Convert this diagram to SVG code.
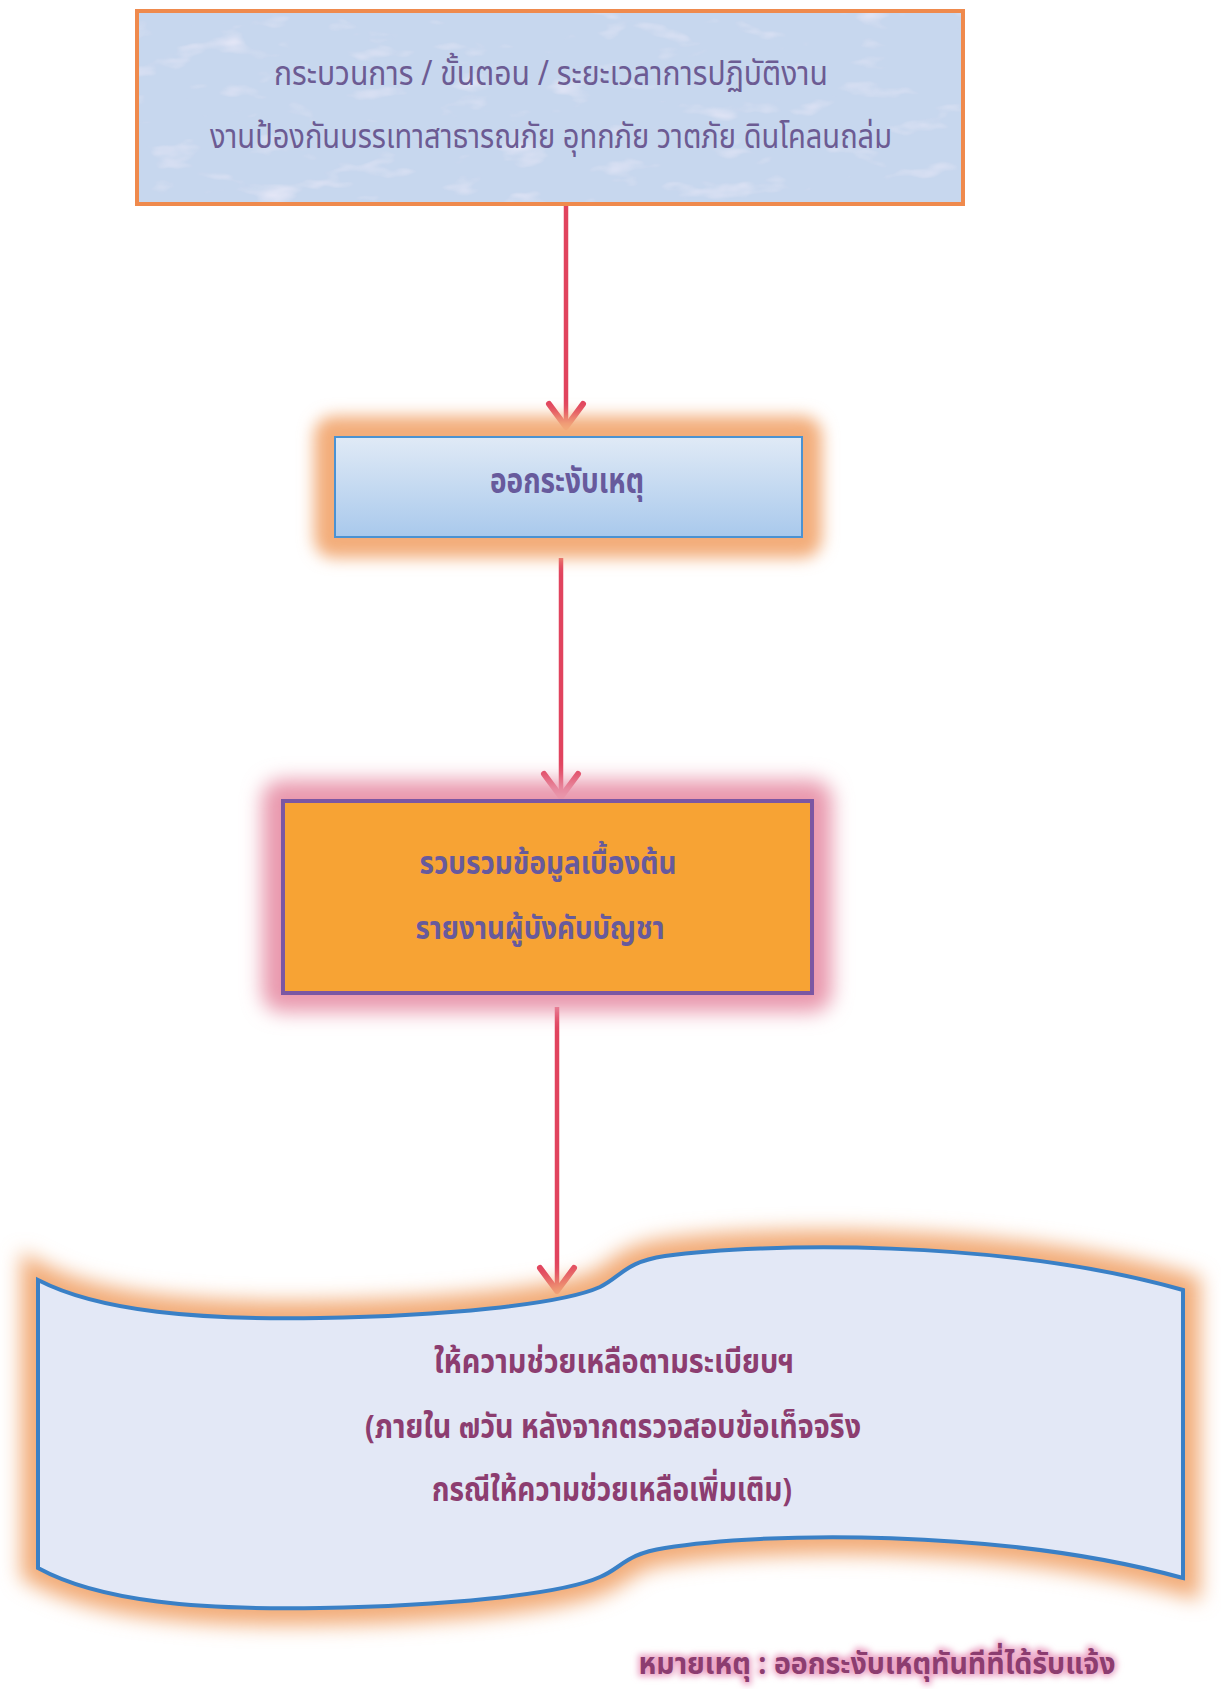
<svg xmlns="http://www.w3.org/2000/svg" width="1221" height="1689" viewBox="0 0 1221 1689">
<defs>
<style>
.t{font-family:"Noto Sans Thai","Noto Sans","DejaVu Sans",sans-serif;text-anchor:middle}
.top{fill:#6c5b93;font-size:34px}
.b{font-weight:bold}
.p{fill:#675a9c}
.m{fill:#8c3d70}
.conn{stroke:#e1435e;stroke-width:4.5;fill:none}
</style>
<marker id="ah" markerUnits="userSpaceOnUse" markerWidth="44" markerHeight="44" refX="28" refY="22" orient="auto" viewBox="0 0 44 44">
<path d="M5,5 L28,22 L5,39" fill="none" stroke="#e1435e" stroke-width="6" stroke-linecap="round" stroke-linejoin="round"/>
</marker>
<filter id="blur8" x="-20%" y="-30%" width="140%" height="160%"><feGaussianBlur stdDeviation="8"/></filter>
<filter id="blur10" x="-20%" y="-30%" width="140%" height="160%"><feGaussianBlur stdDeviation="10"/></filter>
<filter id="marble" x="0" y="0" width="100%" height="100%">
<feTurbulence type="fractalNoise" baseFrequency="0.02 0.05" numOctaves="3" seed="4" result="n"/>
<feColorMatrix in="n" type="matrix" values="0 0 0 0 0.86  0 0 0 0 0.84  0 0 0 0 0.95  -1.6 0 0 1.2 0" result="c"/>
<feComposite in="c" in2="SourceGraphic" operator="in" result="cc"/>
<feMerge><feMergeNode in="SourceGraphic"/><feMergeNode in="cc"/></feMerge>
</filter>
<linearGradient id="g2" x1="0" y1="0" x2="0" y2="1">
<stop offset="0" stop-color="#e0eaf6"/>
<stop offset="1" stop-color="#a9c9ec"/>
</linearGradient>
<filter id="glowtxt" x="-10%" y="-40%" width="120%" height="180%">
<feGaussianBlur stdDeviation="3"/>
</filter>
</defs>
<rect width="1221" height="1689" fill="#ffffff"/>

<g id="connectors">
<line class="conn" x1="566" y1="205" x2="566" y2="427" marker-end="url(#ah)"/>
<line class="conn" x1="561" y1="558" x2="561" y2="797" marker-end="url(#ah)"/>
<line class="conn" x1="557" y1="1007" x2="557" y2="1291" marker-end="url(#ah)"/>
</g>

<g id="node-title">
<rect x="137" y="11" width="826" height="193" fill="#c7d7ee" filter="url(#marble)"/>
<rect x="137" y="11" width="826" height="193" fill="none" stroke="#ef8a4d" stroke-width="4"/>
<text class="t top" x="551" y="85" textLength="554" lengthAdjust="spacingAndGlyphs">กระบวนการ / ขั้นตอน / ระยะเวลาการปฏิบัติงาน</text>
<text class="t top" x="551" y="148" textLength="682" lengthAdjust="spacingAndGlyphs">งานป้องกันบรรเทาสาธารณภัย อุทกภัย  วาตภัย ดินโคลนถล่ม</text>
</g>

<g id="node-respond">
<rect x="314" y="416" width="508" height="142" rx="20" fill="#f3ad7a" filter="url(#blur8)"/>
<rect x="335" y="437" width="467" height="100" fill="url(#g2)" stroke="#4b92d2" stroke-width="2"/>
<text class="t b p" x="567" y="493" font-size="35" textLength="154" lengthAdjust="spacingAndGlyphs">ออกระงับเหตุ</text>
</g>

<g id="node-gather">
<rect x="262" y="780" width="570" height="232" rx="20" fill="#e998ad" filter="url(#blur10)"/>
<rect x="283" y="801" width="529" height="192" fill="#f7a334" stroke="#7b57a3" stroke-width="4"/>
<text class="t b p" x="548" y="874" font-size="32" textLength="257" lengthAdjust="spacingAndGlyphs">รวบรวมข้อมูลเบื้องต้น</text>
<text class="t b p" x="540" y="939" font-size="32" textLength="249" lengthAdjust="spacingAndGlyphs">รายงานผู้บังคับบัญชา</text>
</g>

<g id="node-assist">
<path d="M38,1280 C100,1312 200,1320 320,1318 C440,1316 560,1305 600,1287 C622,1276 625,1262 665,1256 C760,1243 1000,1238 1183,1290 L1183,1578 C1000,1528 760,1532 665,1548 C625,1554 622,1568 600,1577 C560,1595 440,1606 320,1608 C200,1610 100,1602 38,1568 Z" fill="#f2ac78" stroke="#f2ac78" stroke-width="34" filter="url(#blur10)"/>
<path d="M38,1280 C100,1312 200,1320 320,1318 C440,1316 560,1305 600,1287 C622,1276 625,1262 665,1256 C760,1243 1000,1238 1183,1290 L1183,1578 C1000,1528 760,1532 665,1548 C625,1554 622,1568 600,1577 C560,1595 440,1606 320,1608 C200,1610 100,1602 38,1568 Z" fill="#e3e8f6" stroke="#3a80c6" stroke-width="4"/>
<text class="t b m" x="614" y="1373" font-size="33" textLength="360" lengthAdjust="spacingAndGlyphs">ให้ความช่วยเหลือตามระเบียบฯ</text>
<text class="t b m" x="613" y="1438" font-size="33" textLength="496" lengthAdjust="spacingAndGlyphs">(ภายใน ๗วัน หลังจากตรวจสอบข้อเท็จจริง</text>
<text class="t b m" x="612" y="1501" font-size="33" textLength="360" lengthAdjust="spacingAndGlyphs">กรณีให้ความช่วยเหลือเพิ่มเติม)</text>
</g>

<g id="note">
<text class="t b" x="877" y="1674" font-size="30" fill="#eba3c4" stroke="#eba3c4" stroke-width="5" filter="url(#glowtxt)" textLength="477" lengthAdjust="spacingAndGlyphs">หมายเหตุ : ออกระงับเหตุทันทีที่ได้รับแจ้ง</text>
<text class="t b m" x="877" y="1674" font-size="30" textLength="477" lengthAdjust="spacingAndGlyphs">หมายเหตุ : ออกระงับเหตุทันทีที่ได้รับแจ้ง</text>
</g>
</svg>
